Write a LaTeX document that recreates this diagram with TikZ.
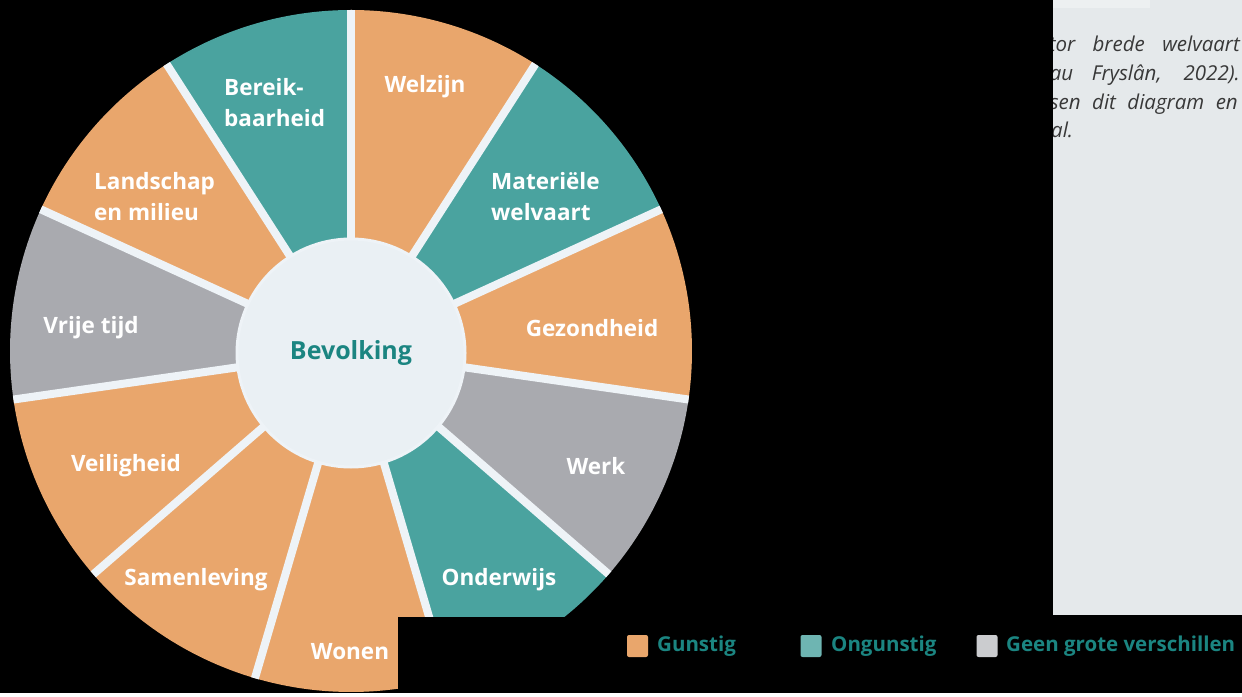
\documentclass[tikz,border=0pt]{standalone}
\usepackage{fontspec}
\setmainfont{Open Sans}
\definecolor{oranje}{HTML}{E9A66C}
\definecolor{groen}{HTML}{4AA39F}
\definecolor{grijs}{HTML}{A9AAAF}
\definecolor{scheid}{HTML}{EEF3F7}
\definecolor{kern}{HTML}{EAF0F4}
\definecolor{tekstgroen}{HTML}{1B8581}
\definecolor{paneel}{HTML}{E5E9EB}

\begin{document}
\begin{tikzpicture}[x=1pt,y=1pt,
  segtekst/.style={text=white,font=\fontsize{22.5}{31}\selectfont\bfseries,align=left,inner sep=0pt},
  scheiding/.style={scheid,line width=8pt},
  vakje/.style={minimum width=21pt,minimum height=22pt,inner sep=0pt,rounded corners=2pt},
  legtekst/.style={text=tekstgroen,font=\fontsize{20.5}{22}\selectfont\bfseries,inner sep=0pt},
  paneeltekst/.style={text=black!78,font=\fontsize{20.5}{29}\selectfont\itshape,inner sep=0pt}]
\fill[black] (0,0) rectangle (1242,693);
% paneel rechts
\fill[paneel] (1053,78) rectangle (1242,693);
\fill[white!30!paneel] (1053,685) rectangle (1150,693);
\begin{scope}
\clip (1053,78) rectangle (1242,693);
\node[paneeltekst,anchor=base east] (regel1) at (1240,641) {\makebox[191pt][s]{tor brede welvaart}};
\node[paneeltekst,anchor=base east] (regel2) at (1240,612) {\makebox[190pt][s]{au Fryslân, 2022).}};
\node[paneeltekst,anchor=base east] (regel3) at (1238,583) {\makebox[188pt][s]{sen dit diagram en}};
\node[paneeltekst,anchor=base west] (regel4) at (1051,555) {al.};
\end{scope}
% wiel
\begin{scope}[shift={(351,342)}]
\foreach \kleur [count=\i from 0] in {oranje,groen,oranje,grijs,groen,oranje,oranje,oranje,grijs,oranje,groen}
  \fill[\kleur] (0,0) -- ({90-\i*360/11}:341) arc[start angle={90-\i*360/11},delta angle={-360/11},radius=341] -- cycle;
\begin{scope}
\clip (0,0) circle (341);
\foreach \i in {0,...,10}
  \draw[scheiding] (0,0) -- ({90-\i*360/11}:350);
\end{scope}
\node[circle,fill=kern,draw=scheid,line width=3pt,minimum size=228pt,inner sep=0pt,
  text=tekstgroen,font=\fontsize{25}{28}\selectfont\bfseries] (bevolking) at (0,-2) {Bevolking};
\end{scope}
\node[segtekst,anchor=west] (bereik) at (224,590) {Bereik-\\baarheid};
\node[segtekst] (welzijn) at (425,606) {Welzijn};
\node[segtekst,anchor=west] (materieel) at (491,496) {Materiële\\welvaart};
\node[segtekst] (gezondheid) at (592,365) {Gezondheid};
\node[segtekst] (werk) at (596,227) {Werk};
\node[segtekst] (onderwijs) at (499,113) {Onderwijs};
\node[segtekst] (wonen) at (350,41) {Wonen};
\node[segtekst] (samenleving) at (196,113) {Samenleving};
\node[segtekst] (veiligheid) at (126,227) {Veiligheid};
\node[segtekst] (vrijetijd) at (91,365) {Vrije tijd};
\node[segtekst,anchor=west] (landschap) at (94,496) {Landschap\\en milieu};
% legenda
\fill[black] (398,0) rectangle (1242,76);
\node[vakje,fill=oranje] (vakgunstig) at (637.5,47) {};
\node[legtekst,anchor=west] (gunstig) at (657,47) {Gunstig};
\node[vakje,fill=groen!80!white] (vakongunstig) at (811,47) {};
\node[legtekst,anchor=west] (ongunstig) at (831,47) {Ongunstig};
\node[vakje,fill=grijs!60!white] (vakgeen) at (987,47) {};
\node[legtekst,anchor=west] (geen) at (1006,47) {Geen grote verschillen};
\end{tikzpicture}
\end{document}
